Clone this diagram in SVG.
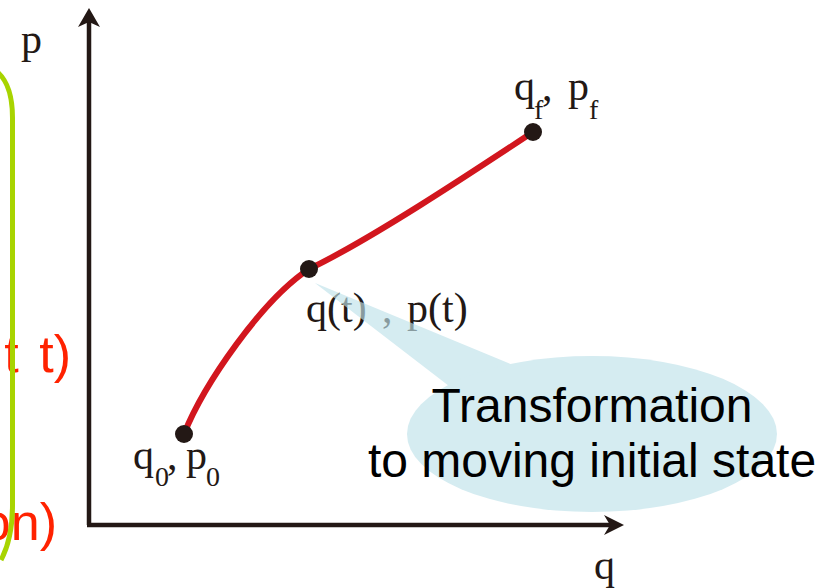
<svg xmlns="http://www.w3.org/2000/svg" width="831" height="588" viewBox="0 0 831 588">
<style>
  .axis { stroke: #231815; stroke-width: 4.5; fill: none; }
  .head { fill: #231815; stroke: none; }
  .curve { stroke: #d2161e; stroke-width: 6; fill: none; stroke-linecap: round; }
  .dot { fill: #231815; }
  .math { font-family: "Liberation Serif", "Times New Roman", serif; font-size: 42px; fill: #231815; }
  .sub { font-family: "Liberation Serif", "Times New Roman", serif; font-size: 28px; fill: #231815; }
  .call { font-family: "Liberation Sans", Arial, sans-serif; font-size: 48px; fill: #000; text-anchor: middle; }
  .red { font-family: "Liberation Sans", Arial, sans-serif; font-size: 52px; fill: #ff2200; text-anchor: end; }
  .bubble { fill: #bfe2ea; }
</style>
<rect width="831" height="588" fill="#ffffff"/>

<g id="left-panel">
  <text class="red" x="71" y="372" word-spacing="6">t t)</text>
  <text class="red" x="57" y="540">on)</text>
  <path d="M -12,66 C 6,74 12.5,92 12.5,118 L 12.5,505 C 12.5,528 9,545 1,560" fill="none" stroke="#a8d400" stroke-width="5"/>
</g>

<g id="connectors">
  <line class="axis" x1="89" y1="20" x2="89" y2="525"/>
  <line class="axis" x1="87" y1="525" x2="612" y2="525"/>
  <path class="head" d="M89,8 L100,27 L89,22 L78,27 Z"/>
  <path class="head" d="M624,525 L604,515 L610,525 L604,535 Z"/>
  <path id="trajectory" class="curve" d="M184,434 C204,384 262,300 309,269 C370,240 474,171 533,132"/>
</g>

<g id="axis-p"><text class="math" x="21" y="53">p</text></g>
<g id="axis-q"><text class="math" x="594" y="579">q</text></g>

<g id="point-initial">
  <circle class="dot" cx="184" cy="434" r="9"/>
  <text class="math" x="133" y="469">q</text>
  <text class="sub" x="155" y="486">0</text>
  <text class="math" x="167" y="469">,</text>
  <text class="math" x="186" y="469">p</text>
  <text class="sub" x="206" y="486">0</text>
</g>

<g id="point-final">
  <circle class="dot" cx="533" cy="132" r="9"/>
  <text class="math" x="514" y="100">q</text>
  <text class="sub" x="534" y="119">f</text>
  <text class="math" x="542" y="100">,</text>
  <text class="math" x="568" y="100">p</text>
  <text class="sub" x="589" y="119">f</text>
</g>

<g id="point-t">
  <circle class="dot" cx="309" cy="269" r="9"/>
  <text class="math" x="306" y="322">q(t)</text>
  <text class="math" x="382" y="322">,</text>
  <text class="math" x="407" y="322">p(t)</text>
</g>

<g id="callout">
  <g opacity="0.65">
    <path class="bubble" d="M315,283 L530,372 L462,396 Z"/>
    <ellipse class="bubble" cx="592" cy="434" rx="185" ry="78"/>
  </g>
  <text class="call" x="592" y="422">Transformation</text>
  <text class="call" x="592" y="477">to moving initial state</text>
</g>
</svg>
